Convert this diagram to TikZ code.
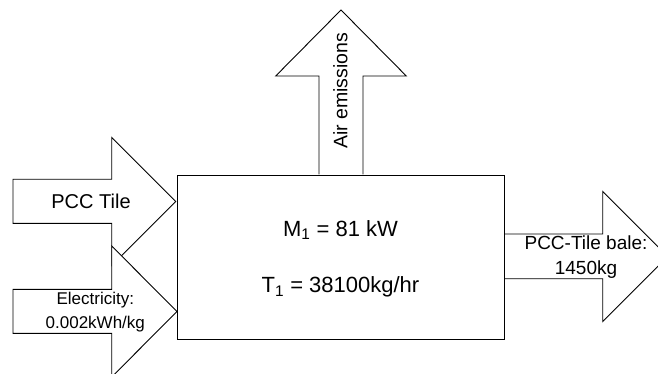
\documentclass[tikz,border=0pt]{standalone}
\usepackage{fontspec}
\setmainfont{Liberation Sans}
\begin{document}
\begin{tikzpicture}[x=1pt,y=-1pt,
  blk/.style={draw=black,fill=white,line width=0.9pt,line join=miter},
  lbl/.style={inner sep=0pt,align=center,text=black}]
\useasboundingbox (0,0) rectangle (658,374);
\clip (0,0) rectangle (658,374);
% input arrow: PCC Tile
\draw[blk] (13,179.3) -- (111.7,179.3) -- (111.7,137.5) -- (175.7,201.5) -- (111.7,265.5) -- (111.7,223.3) -- (13,223.3) -- cycle;
% input arrow: Electricity
\draw[blk] (13,289.3) -- (111.7,289.3) -- (111.7,246) -- (177,311.5) -- (111.7,377) -- (111.7,333.3) -- (13,333.3) -- cycle;
% output arrow: air emissions
\draw[blk] (319,174.5) -- (319,76) -- (275.7,76) -- (341,10) -- (406.3,76) -- (363,76) -- (363,174.5);
% output arrow: bale
\draw[blk] (504.3,234) -- (602.7,234) -- (602.7,191.5) -- (667.7,256.5) -- (602.7,321.5) -- (602.7,278.7) -- (504.3,278.7);
% process box
\node[blk,minimum width=327.3pt,minimum height=163.7pt,anchor=north west,inner sep=0pt] (box) at (177,175) {};
% labels
\node[lbl,font=\fontsize{20}{24}\selectfont] (pcc) at (91,201) {PCC Tile};
\node[lbl,font=\fontsize{17}{23.5}\selectfont] (elec) at (95.3,312) {Electricity:\\0.002kWh/kg};
\node[lbl,font=\fontsize{19.5}{24}\selectfont,rotate=90] (air) at (340.5,91) {Air emissions};
\node[lbl,font=\fontsize{19}{24.5}\selectfont] (bale) at (586,257) {PCC-Tile bale:\\1450kg};
\node[lbl,font=\fontsize{22}{26}\selectfont,anchor=base] (m1) at (340.5,236) {M\textsubscript{1} = 81 kW};
\node[lbl,font=\fontsize{22}{26}\selectfont,anchor=base] (t1) at (340.5,292.7) {T\textsubscript{1} = 38100kg/hr};
\end{tikzpicture}
\end{document}
